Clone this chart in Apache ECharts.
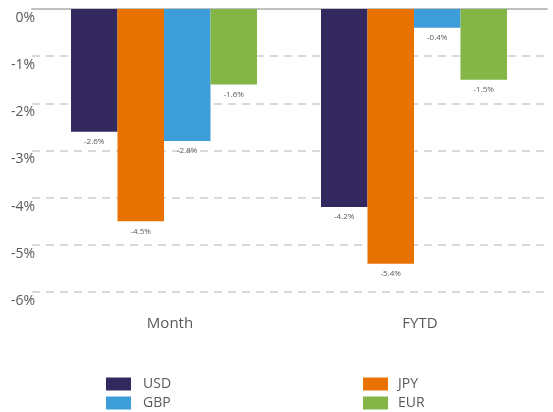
<!DOCTYPE html>
<html>
<head>
<meta charset="utf-8">
<script src="https://cdn.jsdelivr.net/npm/echarts@6/dist/echarts.min.js"></script>
<style>
  html, body { margin: 0; padding: 0; background: #fff; }
  #chart { width: 553px; height: 412px; }
</style>
</head>
<body>
<div id="chart"></div>
<script>
// 类别与数据
const categories = ['Month', 'FYTD'];
const usd = [-2.6, -4.2];
const jpy = [-4.5, -5.4];
const gbp = [-2.8, -0.4];
const eur = [-1.6, -1.5];
const yTicks = [-6, -5, -4, -3, -2, -1, 0];

const font = '"Open Sans", sans-serif';
const grey = '#595959';

const makeSeries = (name, data, color) => ({
  name,
  type: 'bar',
  data,
  xAxisIndex: 2,
  yAxisIndex: 1,
  barWidth: 46.5,
  barGap: '0%',
  itemStyle: { color },
  label: {
    show: true,
    position: 'bottom',
    distance: 6,
    formatter: (p) => p.value.toFixed(1) + '%',
    color: grey,
    fontSize: 8,
    fontFamily: font,
  },
});

const legendBase = {
  orient: 'vertical',
  top: 377,
  padding: 0,
  itemWidth: 25,
  itemHeight: 13,
  itemGap: 5,
  icon: 'rect',
};

const chart = echarts.init(document.getElementById('chart'));
chart.setOption({
  animation: false,
  grid: [
    // 网格线区域
    { left: 32, right: 6, top: 9, bottom: 120 },
    // 柱子区域
    { left: 39, right: 14, top: 9, bottom: 120 },
  ],
  legend: [
    Object.assign({}, legendBase, {
      data: ['USD', 'GBP'],
      left: 106,
      textStyle: { color: grey, fontSize: 14, lineHeight: 14, fontFamily: font, padding: [0, 0, 0, 7] },
    }),
    Object.assign({}, legendBase, {
      data: ['JPY', 'EUR'],
      left: 363,
      textStyle: { color: grey, fontSize: 14, lineHeight: 14, fontFamily: font, padding: [0, 0, 0, 5] },
    }),
  ],
  xAxis: [
    {
      type: 'category',
      gridIndex: 0,
      data: categories,
      position: 'top',
      axisLine: { show: true, onZero: false, lineStyle: { color: '#bfbfbf', width: 2 } },
      axisTick: { show: false },
      axisLabel: { show: false },
    },
    {
      type: 'category',
      gridIndex: 0,
      data: categories,
      position: 'bottom',
      show: false,
    },
    {
      type: 'category',
      gridIndex: 1,
      data: categories,
      position: 'bottom',
      axisLine: { show: false, onZero: false },
      axisTick: { show: false },
      axisLabel: { color: grey, fontSize: 15, fontFamily: font, margin: 24, padding: [0, 0, 0, 12] },
    },
  ],
  yAxis: [
    {
      type: 'value',
      gridIndex: 0,
      min: yTicks[0],
      max: yTicks[yTicks.length - 1],
      interval: 1,
      axisLine: { show: false },
      axisTick: { show: false },
      axisLabel: {
        formatter: '{value}%',
        color: grey,
        fontSize: 14,
        fontFamily: font,
        margin: -3,
        verticalAlign: 'top',
        padding: [2, 0, 0, 0],
      },
      splitLine: { lineStyle: { color: '#d9d9d9', width: 2, type: [8, 6] } },
    },
    {
      type: 'value',
      gridIndex: 1,
      min: yTicks[0],
      max: yTicks[yTicks.length - 1],
      interval: 1,
      show: false,
      splitLine: { show: false },
    },
  ],
  series: [
    makeSeries('USD', usd, '#33295E'),
    makeSeries('JPY', jpy, '#E87200'),
    makeSeries('GBP', gbp, '#3D9DD9'),
    makeSeries('EUR', eur, '#84B547'),
  ],
});

window.addEventListener('resize', () => chart.resize());
</script>
</body>
</html>
